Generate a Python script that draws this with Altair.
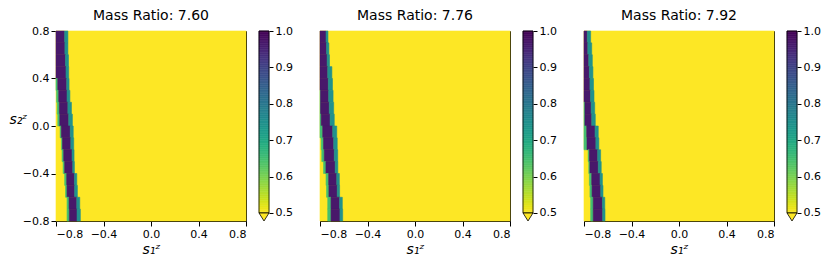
import altair as alt
import pandas as pd
import numpy as np

mass_ratios = ["7.60", "7.76", "7.92"]
ticks = [-0.8, -0.4, 0.0, 0.4, 0.8]
cbar_ticks = [0.5, 0.6, 0.7, 0.8, 0.9, 1.0]

# rows of the s2 grid (top/bottom edges)
row_top = [0.8, 0.7, 0.6, 0.5, 0.4, 0.3, 0.2, 0.1, 0.0, -0.1, -0.2, -0.3, -0.4, -0.5, -0.6, -0.7]
row_bot = [0.7, 0.6, 0.5, 0.4, 0.3, 0.2, 0.1, 0.0, -0.1, -0.2, -0.3, -0.4, -0.5, -0.6, -0.7, -0.8]

# band edges (s1) per row
p1_fr_l = [-0.8, -0.8, -0.8, -0.8, -0.8, -0.795, -0.79, -0.785, -0.765, -0.755, -0.749, -0.74, -0.727, -0.72, -0.707, -0.707]
p1_core_l = [-0.8, -0.8, -0.8, -0.8, -0.785, -0.777, -0.772, -0.768, -0.755, -0.745, -0.735, -0.727, -0.71, -0.707, -0.69, -0.688]
p1_core_r = [-0.727, -0.725, -0.72, -0.716, -0.71, -0.707, -0.70, -0.693, -0.68, -0.675, -0.665, -0.659, -0.645, -0.643, -0.625, -0.623]
p1_fr_r = [-0.70, -0.70, -0.695, -0.693, -0.69, -0.683, -0.67, -0.662, -0.655, -0.651, -0.648, -0.645, -0.625, -0.62, -0.60, -0.595]

p2_fr_l = [-0.8, -0.8, -0.8, -0.8, -0.8, -0.8, -0.8, -0.8, -0.8, -0.79, -0.785, -0.77, -0.749, -0.745, -0.735, -0.735]
p2_core_l = [-0.8, -0.8, -0.8, -0.8, -0.8, -0.795, -0.795, -0.79, -0.777, -0.77, -0.764, -0.75, -0.727, -0.725, -0.707, -0.707]
p2_core_r = [-0.749, -0.745, -0.74, -0.735, -0.73, -0.727, -0.722, -0.715, -0.693, -0.685, -0.68, -0.672, -0.659, -0.655, -0.635, -0.632]
p2_fr_r = [-0.733, -0.725, -0.72, -0.70, -0.695, -0.69, -0.685, -0.68, -0.659, -0.655, -0.651, -0.65, -0.637, -0.635, -0.612, -0.609]

p3_fr_l = [-0.8, -0.8, -0.8, -0.8, -0.8, -0.8, -0.8, -0.8, -0.8, -0.8, -0.765, -0.76, -0.755, -0.75, -0.744, -0.744]
p3_core_l = [-0.8, -0.8, -0.8, -0.8, -0.8, -0.8, -0.792, -0.792, -0.777, -0.775, -0.755, -0.75, -0.735, -0.732, -0.722, -0.722]
p3_core_r = [-0.772, -0.768, -0.76, -0.755, -0.75, -0.745, -0.74, -0.735, -0.707, -0.70, -0.685, -0.68, -0.665, -0.659, -0.645, -0.643]
p3_fr_r = [-0.744, -0.735, -0.73, -0.725, -0.72, -0.716, -0.71, -0.705, -0.68, -0.675, -0.66, -0.655, -0.645, -0.64, -0.625, -0.623]

core_val = 0.97
left_fringe_val = 0.65
right_fringe_val = 0.75
background_val = 0.40

panels = [
    (p1_fr_l, p1_core_l, p1_core_r, p1_fr_r),
    (p2_fr_l, p2_core_l, p2_core_r, p2_fr_r),
    (p3_fr_l, p3_core_l, p3_core_r, p3_fr_r),
]

color_scale = alt.Scale(scheme="viridis", reverse=True, domain=[0.5, 1.0], clamp=True)
FONT = "DejaVu Sans"


def heat_df(edges):
    fr_l, core_l, core_r, fr_r = edges
    rows = [dict(x0=-0.8, x1=0.8, y0=-0.8, y1=0.8, v=background_val)]
    for i in range(len(row_top)):
        yt, yb = row_top[i], row_bot[i]
        if fr_l[i] < core_l[i]:
            rows.append(dict(x0=fr_l[i], x1=core_l[i], y0=yb, y1=yt, v=left_fringe_val))
        rows.append(dict(x0=core_l[i], x1=core_r[i], y0=yb, y1=yt, v=core_val))
        if fr_r[i] > core_r[i]:
            rows.append(dict(x0=core_r[i], x1=fr_r[i], y0=yb, y1=yt, v=right_fringe_val))
    return pd.DataFrame(rows)


def heat(k):
    df = heat_df(panels[k])
    sc = alt.Scale(domain=[-0.8, 0.8], nice=False, zero=False)
    if k == 0:
        yaxis = alt.Axis(values=ticks, format=".1f", title="s₂ᶻ", titleAngle=0,
                         titleAlign="right", titleBaseline="middle", titleX=-29, titleY=88,
                         titleFontSize=14, titleFontStyle="italic", titleFontWeight="normal",
                         labelFontSize=11, tickSize=5, domain=False, grid=False,
                         tickColor="black", labelColor="black", titleColor="black")
    else:
        # same labels, invisible, so that every panel's title sits at the same height
        yaxis = alt.Axis(values=ticks, format=".1f", title=None, labelFontSize=11,
                         ticks=False, domain=False, grid=False, labelOpacity=0)
    return alt.Chart(df).mark_rect(strokeWidth=0.6).encode(
        x=alt.X("x0:Q", scale=sc,
                axis=alt.Axis(values=ticks, format=".1f", title="s₁ᶻ", titleFontSize=14,
                              titleFontStyle="italic", titleFontWeight="normal",
                              labelFontSize=11, tickSize=5, domain=False, grid=False,
                              tickColor="black", labelColor="black", titleColor="black",
                              titlePadding=3)),
        x2="x1:Q",
        y=alt.Y("y0:Q", scale=sc, axis=yaxis),
        y2="y1:Q",
        color=alt.Color("v:Q", scale=color_scale, legend=None),
        stroke=alt.Stroke("v:Q", scale=color_scale, legend=None),
    ).properties(
        width=190, height=190,
        title=alt.TitleParams(f"Mass Ratio: {mass_ratios[k]}", fontSize=14, fontWeight="normal",
                              font=FONT, offset=2, color="black", frame="group"),
        view=alt.ViewBackground(stroke="black", strokeWidth=1),
    )


# colorbar ramp
ramp_lo = np.round(np.arange(0.5, 1.0, 0.005), 4)
ramp_df = pd.DataFrame({"lo": ramp_lo, "hi": ramp_lo + 0.005, "v": ramp_lo + 0.0025,
                        "cx0": 0.0, "cx1": 1.0})
outline_df = pd.DataFrame({"lo": [0.5], "hi": [1.0], "cx0": [0.0], "cx1": [1.0]})
tri_df = pd.DataFrame({"lo": [0.489], "cx": [0.5]})
spacer_df = pd.DataFrame({"sx0": [0.0], "sx1": [1.0], "sy0": [0.0], "sy1": [1.0]})


def cbar():
    ysc = alt.Scale(domain=[0.478, 1.0], nice=False, zero=False)
    xsc = alt.Scale(domain=[0, 1], nice=False, zero=False)
    cb_axis = alt.Axis(orient="right", values=cbar_ticks, format=".1f", title=None,
                       labelFontSize=11, tickSize=4, domain=False, grid=False,
                       labelOverlap=False, tickColor="black", labelColor="black")
    ramp = alt.Chart(ramp_df).mark_rect(strokeWidth=0.6).encode(
        x=alt.X("cx0:Q", scale=xsc, axis=None), x2="cx1:Q",
        y=alt.Y("lo:Q", scale=ysc, axis=cb_axis),
        y2="hi:Q",
        color=alt.Color("v:Q", scale=color_scale, legend=None),
        stroke=alt.Stroke("v:Q", scale=color_scale, legend=None),
    )
    outline = alt.Chart(outline_df).mark_rect(filled=False, stroke="black", strokeWidth=0.8).encode(
        x=alt.X("cx0:Q", scale=xsc, axis=None), x2="cx1:Q",
        y=alt.Y("lo:Q", scale=ysc, axis=cb_axis), y2="hi:Q",
    )
    tri = alt.Chart(tri_df).mark_point(
        shape="M-1,-0.8L1,-0.8L0,0.8Z", size=100, filled=True, fill="#fde725",
        stroke="black", strokeWidth=0.8, opacity=1,
    ).encode(
        x=alt.X("cx:Q", scale=xsc, axis=None),
        y=alt.Y("lo:Q", scale=ysc, axis=cb_axis),
    )
    return alt.layer(ramp, outline, tri).properties(
        width=10, height=190, view=alt.ViewBackground(stroke=None))


def spacer():
    s = alt.Scale(domain=[0, 1], nice=False, zero=False)
    return alt.Chart(spacer_df).mark_rect(opacity=0).encode(
        x=alt.X("sx0:Q", axis=None, scale=s), x2="sx1:Q",
        y=alt.Y("sy0:Q", axis=None, scale=s), y2="sy1:Q",
    ).properties(width=25, height=190, view=alt.ViewBackground(stroke=None))


parts = []
for k in range(3):
    if k > 0:
        parts.append(spacer())
    parts.append(heat(k))
    parts.append(cbar())

chart = alt.hconcat(*parts, spacing=13, bounds="flush").resolve_scale(
    x="independent", y="independent"
).properties(padding=0).configure(font=FONT).configure_view(stroke=None)

chart.save("out.html", embed_options={"renderer": "svg", "actions": False})
